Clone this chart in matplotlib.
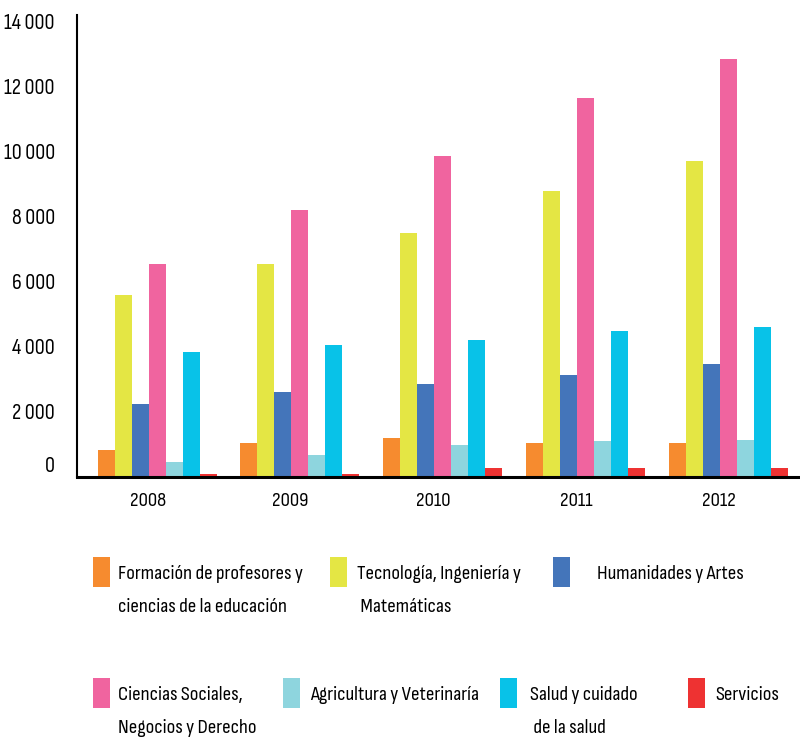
import matplotlib
matplotlib.use("Agg")
import matplotlib.pyplot as plt
from matplotlib.patches import Rectangle
from matplotlib.transforms import ScaledTranslation
import numpy as np

plt.rcParams['font.family'] = ['Sofia Sans Condensed', 'DejaVu Sans']

years = ["2008", "2009", "2010", "2011", "2012"]
series_names = [
    "Formación de profesores y\nciencias de la educación",
    "Tecnología, Ingeniería y\n Matemáticas",
    "Humanidades y Artes",
    "Ciencias Sociales,\nNegocios y Derecho",
    "Agricultura y Veterinaría",
    "Salud y cuidado\n de la salud",
    "Servicios",
]
formacion = [830, 1050, 1200, 1050, 1050]
tecnologia = [5600, 6550, 7500, 8800, 9720]
humanidades = [2250, 2600, 2870, 3150, 3490]
ciencias_sociales = [6550, 8200, 9880, 11670, 12870]
agricultura = [450, 680, 990, 1110, 1140]
salud = [3850, 4050, 4200, 4480, 4630]
servicios = [100, 100, 280, 280, 280]
series_values = [formacion, tecnologia, humanidades, ciencias_sociales,
                 agricultura, salud, servicios]
yticks = [0, 2000, 4000, 6000, 8000, 10000, 12000, 14000]
ytick_labels = ["0", "2 000", "4 000", "6 000", "8 000", "10 000", "12 000", "14 000"]

colors = ['#F68B2F', '#E4E644', '#4475BA', '#F0649F', '#8ED5DE', '#08C2E8', '#EE3232']

W, H = 800, 742
fig = plt.figure(figsize=(W / 100, H / 100), dpi=100)
ax = fig.add_axes([77 / W, 1 - 477 / H, 1 - 77 / W, (477 - 15) / H])

x = np.arange(len(years))
w = 0.119
for j, (vals, c) in enumerate(zip(series_values, colors)):
    ax.bar(x + (j - 3) * w, vals, width=w, color=c, linewidth=0)

ax.set_xlim(-0.56, 4.5)
ax.set_ylim(0, 14215)
ax.set_yticks(yticks)
ax.set_yticklabels(ytick_labels, fontsize=16)
ax.set_xticks(x - 0.065)
ax.set_xticklabels(years, fontsize=15)
ax.tick_params(axis='both', length=0)
ax.tick_params(axis='y', pad=16)
ax.tick_params(axis='x', pad=11)
for s in ['top', 'right']:
    ax.spines[s].set_visible(False)
ax.spines['left'].set_linewidth(1.5)
ax.spines['bottom'].set_linewidth(2.2)
ax.spines['left'].set_color('black')
ax.spines['bottom'].set_color('black')

# shift "0" label up slightly as in reference
lbl0 = ax.yaxis.get_major_ticks()[0].label1
lbl0.set_transform(lbl0.get_transform() + ScaledTranslation(0, 9 / 72, fig.dpi_scale_trans))

# manual legend
legend_pos = [
    (93, 557, 118), (330, 557, 357), (553, 557, 597),
    (93, 678, 118), (283, 678, 310), (500, 678, 530), (688, 678, 715),
]
for (px, py, tx), name, c in zip(legend_pos, series_names, colors):
    fig.add_artist(Rectangle((px / W, 1 - (py + 30) / H), 17 / W, 30 / H,
                             transform=fig.transFigure, color=c, linewidth=0))
    fig.text(tx / W, 1 - (py + 15) / H, name, fontsize=15, ha='left', va='top',
             linespacing=2.1,
             transform=fig.transFigure + ScaledTranslation(0, 5.0 / 72, fig.dpi_scale_trans))

fig.savefig("out.png", dpi=100)
